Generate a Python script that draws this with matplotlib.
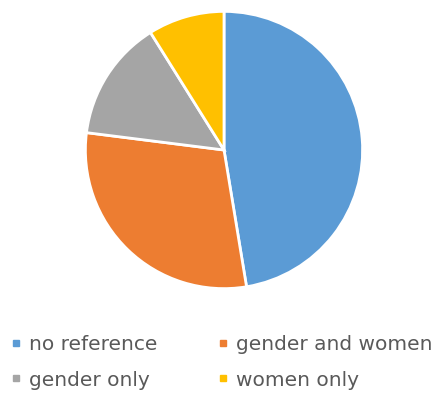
import matplotlib
matplotlib.use("Agg")
import matplotlib.pyplot as plt
from matplotlib.lines import Line2D

categories = ["no reference", "gender and women", "gender only", "women only"]
shares = [47.4, 29.6, 14.1, 8.9]
colors = ["#5B9BD5", "#ED7D31", "#A5A5A5", "#FFC000"]

W, H = 446, 396
fig = plt.figure(figsize=(W / 100, H / 100), dpi=100)
fig.patch.set_facecolor("white")

cx, cy, r = 224, 150, 140
ax = fig.add_axes([(cx - r) / W, (H - cy - r) / H, 2 * r / W, 2 * r / H])
ax.pie(shares, colors=colors, startangle=90, counterclock=False,
       wedgeprops=dict(edgecolor="white", linewidth=2))
ax.set_xlim(-1.01, 1.01)
ax.set_ylim(-1.01, 1.01)
ax.set_aspect("equal")
ax.axis("off")

handles = [Line2D([], [], linestyle="none", marker="s", markersize=5,
                  markerfacecolor=c, markeredgecolor=c) for c in colors]
# two columns filled column-wise: left column = entries 0 and 2, right = 1 and 3
order = [0, 2, 1, 3]
fig.legend([handles[i] for i in order], [categories[i] for i in order],
           ncol=2, loc="upper left", bbox_to_anchor=(11 / W, 1 - 335 / H),
           frameon=False, fontsize=14.5, labelcolor="#595959",
           handlelength=0.5, handletextpad=0.4, columnspacing=3.0,
           labelspacing=0.82, borderpad=0, borderaxespad=0)

fig.savefig("out.png", dpi=100, facecolor="white")
